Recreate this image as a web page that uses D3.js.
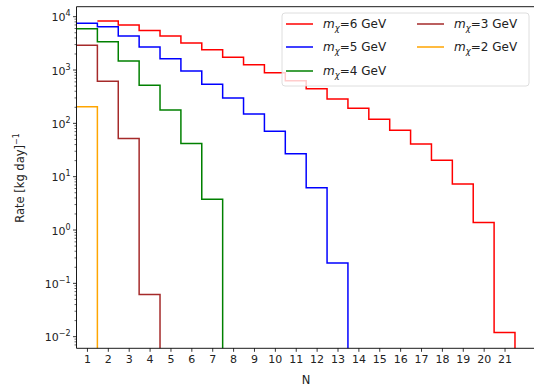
<!DOCTYPE html>
<html>
<head>
<meta charset="utf-8">
<script src="https://cdn.jsdelivr.net/npm/d3@7"></script>
<style>
  html, body { margin: 0; padding: 0; background: #fff; }
  svg { display: block; font-family: "DejaVu Sans", sans-serif; }
</style>
</head>
<body>
<svg id="chart" width="534" height="390"></svg>
<script>
// Event rate per bin N for each dark-matter mass (kg^-1 day^-1)
const nBins6 = d3.range(2, 22);
const rate6 = [8300, 7000, 5500, 4360, 3200, 2400, 1740, 1260, 890, 630, 445, 287, 191, 119, 74, 41, 20.3, 7.3, 1.39, 0.012];
const nBins5 = d3.range(1, 14);
const rate5 = [7500, 6500, 4360, 2700, 1630, 960, 540, 300, 150, 71, 27, 6.2, 0.24];
const nBins4 = d3.range(1, 8);
const rate4 = [5960, 3400, 1480, 516, 178, 42, 3.77];
const nBins3 = d3.range(1, 5);
const rate3 = [2900, 615, 52, 0.062];
const nBins2 = [1];
const rate2 = [205];

const massLabels = ["6", "5", "4", "3", "2"];
const seriesColors = ["#ff0000", "#0000ff", "#008000", "#a52a2a", "#ffa500"];
const xTicks = d3.range(1, 22);
const yExponents = [-2, -1, 0, 1, 2, 3, 4];

const series = [
  { n: nBins6, v: rate6 }, { n: nBins5, v: rate5 }, { n: nBins4, v: rate4 },
  { n: nBins3, v: rate3 }, { n: nBins2, v: rate2 }
].map((s, i) => ({ ...s, mass: massLabels[i], color: seriesColors[i] }));

const svg = d3.select("#chart");
const plotLeft = 76.5, plotTop = 6.7, plotBottom = 348.3;
const binWidth = 20.88;

const x = d3.scaleLinear().domain([0.5, 22.5]).range([plotLeft, plotLeft + 22 * binWidth]);
const y = d3.scaleLog().domain([Math.pow(10, -2.218), Math.pow(10, 4.1875)]).range([plotBottom, plotTop]);

svg.append("defs").append("clipPath").attr("id", "plotArea")
  .append("rect").attr("x", plotLeft).attr("y", plotTop)
  .attr("width", 534 - plotLeft).attr("height", plotBottom - plotTop);

// Step curves (histogram outlines), each falling off the bottom after its last bin
const line = d3.line().x(d => x(d[0])).y(d => y(d[1])).curve(d3.curveStepAfter);
const floorVal = 1e-4;
series.forEach(s => {
  const pts = s.n.map((n, i) => [n - 0.5, s.v[i]]);
  const last = s.n[s.n.length - 1] + 0.5;
  pts.push([last, s.v[s.v.length - 1]]);
  pts.push([last, floorVal]);
  svg.append("path")
    .attr("clip-path", "url(#plotArea)")
    .attr("d", line(pts))
    .attr("fill", "none")
    .attr("stroke", s.color)
    .attr("stroke-width", 1.5)
    .attr("stroke-linejoin", "miter");
});

// Spines
const spine = svg.append("g").attr("stroke", "#000").attr("stroke-width", 0.9);
spine.append("line").attr("x1", plotLeft).attr("x2", 534).attr("y1", plotBottom).attr("y2", plotBottom);
spine.append("line").attr("x1", plotLeft).attr("x2", 534).attr("y1", plotTop).attr("y2", plotTop);
spine.append("line").attr("x1", plotLeft).attr("x2", plotLeft).attr("y1", plotTop).attr("y2", plotBottom);

// X axis
const xAxis = svg.append("g").attr("transform", `translate(0,${plotBottom})`)
  .call(d3.axisBottom(x).tickValues(xTicks).tickSize(3.5).tickPadding(3).tickFormat(d3.format("d")));
xAxis.select(".domain").remove();
xAxis.selectAll("line").attr("stroke", "#000").attr("stroke-width", 0.8);
xAxis.selectAll("text").attr("font-size", "11px").attr("fill", "#222").attr("font-family", "DejaVu Sans");

// Y axis: major decades with superscript labels, minor ticks 2..9
const majors = yExponents.map(e => Math.pow(10, e));
const minors = [];
for (let e = -3; e <= 4; e++) for (let m = 2; m <= 9; m++) {
  const v = m * Math.pow(10, e);
  if (v >= y.domain()[0] && v <= y.domain()[1]) minors.push(v);
}
const yg = svg.append("g");
yg.selectAll("line.minor").data(minors).join("line")
  .attr("class", "minor")
  .attr("x1", plotLeft - 2).attr("x2", plotLeft)
  .attr("y1", d => y(d)).attr("y2", d => y(d))
  .attr("stroke", "#000").attr("stroke-width", 0.6);
yg.selectAll("line.major").data(majors).join("line")
  .attr("class", "major")
  .attr("x1", plotLeft - 3.5).attr("x2", plotLeft)
  .attr("y1", d => y(d)).attr("y2", d => y(d))
  .attr("stroke", "#000").attr("stroke-width", 0.8);
yExponents.forEach(e => {
  const t = yg.append("text")
    .attr("x", plotLeft - 6).attr("y", y(Math.pow(10, e)) + 4.5)
    .attr("text-anchor", "end").attr("font-size", "11px").attr("fill", "#222");
  t.append("tspan").text("10");
  t.append("tspan").attr("dy", "-5").attr("font-size", "8px")
    .text(e < 0 ? "\u2212" + (-e) : String(e));
});

// Axis titles
svg.append("text").attr("x", 306).attr("y", 384).attr("text-anchor", "middle")
  .attr("font-size", "11.5px").attr("fill", "#222").text("N");
const yl = svg.append("text").attr("transform", "translate(24,178) rotate(-90)")
  .attr("text-anchor", "middle").attr("font-size", "11.5px").attr("fill", "#222");
yl.append("tspan").text("Rate [kg day]");
yl.append("tspan").attr("dy", "-5").attr("font-size", "8px").text("\u22121");

// Legend (two columns, filled column-wise)
const lg = svg.append("g");
lg.append("rect").attr("x", 282).attr("y", 13).attr("width", 247).attr("height", 73)
  .attr("rx", 3).attr("fill", "#fff").attr("fill-opacity", 0.8)
  .attr("stroke", "#d6d6d6").attr("stroke-width", 0.8);
const rowY = [24, 47, 71];
const colX = [286, 417];
series.forEach((s, i) => {
  const col = Math.floor(i / 3), row = i % 3;
  const lx = colX[col], ly = rowY[row];
  lg.append("line").attr("x1", lx).attr("x2", lx + 27).attr("y1", ly).attr("y2", ly)
    .attr("stroke", s.color).attr("stroke-width", 1.5);
  const t = lg.append("text").attr("x", lx + 37).attr("y", ly + 4.3)
    .attr("font-size", "12px").attr("fill", "#222");
  t.append("tspan").attr("font-style", "italic").text("m");
  t.append("tspan").attr("font-style", "italic").attr("font-size", "8.5px").attr("dy", "3").text("\u03c7");
  t.append("tspan").attr("dy", "-3").text("=" + s.mass + " GeV");
});
</script>
</body>
</html>
